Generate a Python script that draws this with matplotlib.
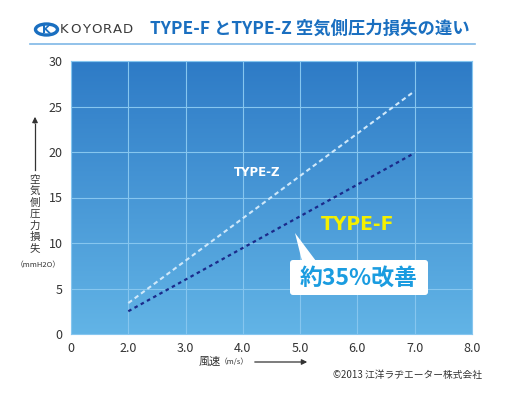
import matplotlib
matplotlib.use("Agg")
import matplotlib.pyplot as plt
import numpy as np
from matplotlib.patches import Ellipse, FancyBboxPatch, Polygon
from matplotlib.lines import Line2D

plt.rcParams['font.family'] = ['Noto Sans CJK JP', 'DejaVu Sans']

# Data
x_labels = ["0", "2.0", "3.0", "4.0", "5.0", "6.0", "7.0", "8.0"]
y_ticks = [0, 5, 10, 15, 20, 25, 30]
speed = [2.0, 7.0]
type_z = [3.4, 26.7]
type_f = [2.5, 19.9]

def xpos(v):
    # axis: label "0" at 0, then 2.0..8.0 equally spaced
    return [x_labels.index(f"{s:.1f}") for s in v]

W, H = 508, 397
fig = plt.figure(figsize=(W/100, H/100), dpi=100)
fig.patch.set_facecolor("white")

L, R, B, T = 71, 472, 334, 61
ax = fig.add_axes([L/W, (H-B)/H, (R-L)/W, (B-T)/H])

# gradient background
grad = np.linspace(0, 1, 256).reshape(-1, 1)
top = np.array([0x2e, 0x7b, 0xc6]) / 255
bot = np.array([0x62, 0xb4, 0xe6]) / 255
img = top + (bot - top) * grad[..., None]
img = img.reshape(256, 1, 3)
ax.imshow(img, extent=[0, 1, 0, 1], transform=ax.transAxes, aspect='auto', zorder=0)

ax.set_xlim(0, len(x_labels) - 1)
ax.set_ylim(0, 30)
ax.set_xticks(range(len(x_labels)))
ax.set_xticklabels(x_labels)
ax.set_yticks(y_ticks)
ax.tick_params(length=0, labelsize=9, labelcolor="#333333", pad=6)
ax.grid(True, color="#86c6ef", linewidth=0.8, zorder=1)
ax.set_axisbelow(False)
for s in ax.spines.values():
    s.set_color("#86c6ef")
    s.set_linewidth(0.8)

ax.plot(xpos(speed), type_z, color="#cfe8fa", linestyle=(0, (2.2, 1.6)), linewidth=1.5, zorder=3)
ax.plot(xpos(speed), type_f, color="#1b2a8a", linestyle=(0, (1.6, 1.6)), linewidth=1.6, zorder=3)

# overlay axes in pixel coordinates for annotations
ov = fig.add_axes([0, 0, 1, 1], facecolor="none")
ov.set_axis_off()
ov.set_xlim(0, W); ov.set_ylim(H, 0)

ov.text(257, 173, "TYPE-Z", color="white", fontsize=8.5, fontweight="bold",
        ha="center", va="center", family=["DejaVu Sans"])
ov.text(358, 224, "TYPE-F", color="#f4f000", fontsize=13.5, fontweight="bold",
        ha="center", va="center", family=["DejaVu Sans"])

# callout
box = FancyBboxPatch((290, 260), 138, 35, boxstyle="round,pad=0,rounding_size=3",
                     facecolor="white", edgecolor="none", zorder=5)
ov.add_patch(box)
tail = Polygon([(295, 233), (302, 261), (316, 261)], closed=True,
               facecolor="white", edgecolor="none", zorder=5)
ov.add_patch(tail)
ov.text(359, 278, "約35%改善", color="#1a9ce0", fontsize=16.5, fontweight="bold",
        ha="center", va="center", zorder=6)

# title
ov.text(310, 29, "TYPE-F とTYPE-Z 空気側圧力損失の違い", color="#1a6fc0",
        fontsize=12.5, fontweight="bold", ha="center", va="center")
ov.plot([30, 475], [44, 44], color="#7fb8e6", linewidth=1.2)

# logo
ell = Ellipse((46.5, 29.5), 22, 11, facecolor="white", edgecolor="#1a6fc0", linewidth=2.4)
ov.add_patch(ell)
ov.text(46.5, 29.8, "K", color="#1a6fc0", fontsize=8, fontweight="bold",
        ha="center", va="center", family=["DejaVu Sans"])
for i, ch in enumerate("KOYORAD"):
    ov.text(64.5 + i * 10.6, 29.5, ch, color="#3a3a3a", fontsize=9.5,
            ha="center", va="center", family=["DejaVu Sans"])

# y-axis label (vertical)
ov.plot([35, 35], [124, 170], color="#333333", linewidth=0.9)
ov.annotate("", xy=(35, 114), xytext=(35, 126),
            arrowprops=dict(arrowstyle="-|>", color="#333333", lw=0.9, mutation_scale=8))
for i, ch in enumerate("空気側圧力損失"):
    ov.text(35, 180 + i * 11.4, ch, color="#333333", fontsize=7.5, ha="center", va="center")
ov.text(38, 265, "（mmH2O）", color="#333333", fontsize=5.5, ha="center", va="center")

# x-axis label
ov.text(210, 362, "風速", color="#333333", fontsize=8, ha="center", va="center")
ov.text(234, 362, "（m/s）", color="#333333", fontsize=5.5, ha="center", va="center")
ov.annotate("", xy=(310, 362), xytext=(252, 362),
            arrowprops=dict(arrowstyle="-|>", color="#333333", lw=0.9, mutation_scale=8))

# copyright
ov.text(482, 375, "©2013 江洋ラヂエーター株式会社", color="#333333", fontsize=7,
        ha="right", va="center")

fig.savefig("out.png", dpi=100, facecolor="white")
